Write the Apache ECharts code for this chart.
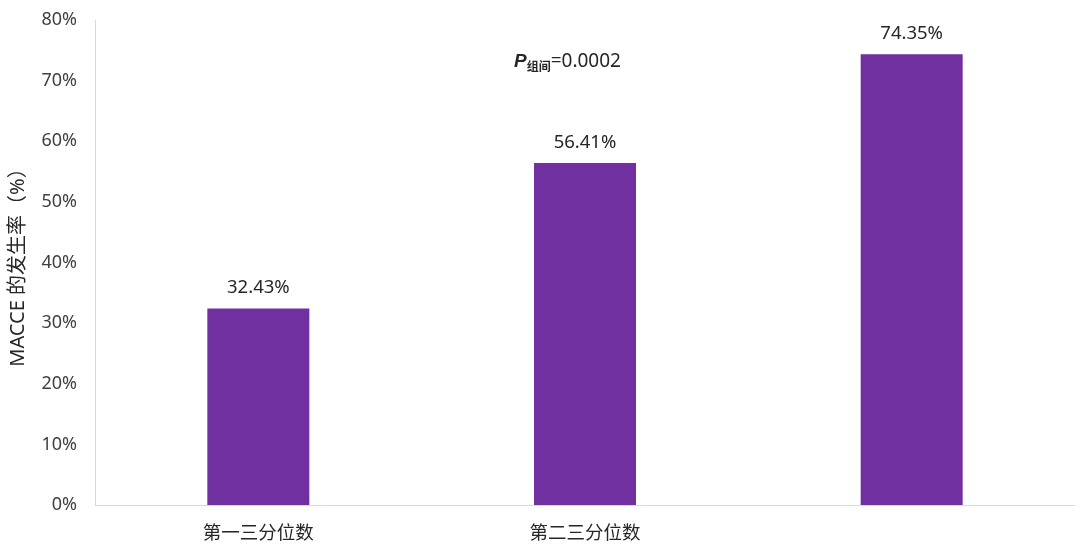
<!DOCTYPE html>
<html>
<head>
<meta charset="utf-8">
<script src="https://cdn.jsdelivr.net/npm/echarts@6/dist/echarts.min.js"></script>
<style>html,body{margin:0;padding:0;background:#fff}#c{width:1080px;height:554px}</style>
</head>
<body>
<div id="c"></div>
<script>
const categories = ['第一三分位数', '第二三分位数', '第三三分位数'];
const values = [32.43, 56.41, 74.35];
const yTicks = [0, 10, 20, 30, 40, 50, 60, 70, 80];
const pLabel = '=0.0002';

const FONT = '"Noto Sans", "Noto Sans CJK SC", sans-serif';
const chart = echarts.init(document.getElementById('c'));
chart.setOption({
  animation: false,
  textStyle: { fontFamily: FONT },
  grid: { left: 95, right: 5, top: 20, bottom: 49, outerBoundsMode: 'none', containLabel: false },
  xAxis: {
    type: 'category',
    data: categories,
    axisLine: { lineStyle: { color: '#d9d9d9', width: 1 } },
    axisTick: { show: false },
    axisLabel: {
      fontSize: 18.5, margin: 19, fontFamily: FONT,
      color: function (v, i) { return i === 2 ? '#ffffff' : '#262626'; }
    }
  },
  yAxis: {
    type: 'value',
    min: yTicks[0], max: yTicks[yTicks.length - 1], interval: 10,
    name: 'MACCE 的发生率（%）',
    nameLocation: 'middle', nameGap: 67, nameRotate: 90,
    nameTextStyle: { fontSize: 20, color: '#262626', fontFamily: FONT },
    axisLine: { show: true, lineStyle: { color: '#d9d9d9' } },
    axisTick: { show: false },
    splitLine: { show: false },
    axisLabel: { fontSize: 18, color: '#404040', margin: 18, formatter: '{value}%' }
  },
  series: [{
    type: 'bar',
    data: values,
    barWidth: 102,
    itemStyle: { color: '#7030A0' },
    label: {
      show: true, position: 'top', distance: 11,
      fontSize: 18.5, color: '#262626', fontFamily: FONT,
      formatter: function (p) { return p.value.toFixed(2) + '%'; }
    }
  }],
  graphic: [{
    type: 'text',
    left: 514, top: 52,
    style: {
      text: '{p|P}{s|组间}{n|' + pLabel + '}',
      rich: {
        p: { fontSize: 19, fontWeight: 'bold', fontStyle: 'italic', fill: '#262626', fontFamily: 'Liberation Sans, sans-serif' },
        s: { fontSize: 12, fill: '#262626', fontFamily: '"Noto Sans CJK SC"', padding: [10, 0, 0, 0], fontWeight: 'bold' },
        n: { fontSize: 19, fill: '#262626', fontFamily: '"Noto Sans", sans-serif' }
      }
    }
  }]
});
</script>
</body>
</html>
